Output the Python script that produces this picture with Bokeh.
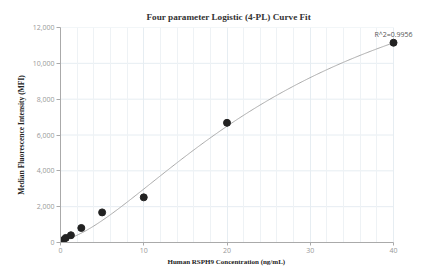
import numpy as np
from bokeh.plotting import figure
from bokeh.models import NumeralTickFormatter, Label, FixedTicker, Title
from bokeh.embed import file_html
from bokeh.resources import INLINE

# Data
concentration = [0.3125, 0.625, 1.25, 2.5, 5, 10, 20, 40]
mfi = [130, 255, 405, 810, 1680, 2520, 6680, 11150]
r2_text = "R^2=0.9956"
title_text = "Four parameter Logistic (4-PL) Curve Fit"
x_label = "Human RSPH9 Concentration (ng/mL)"
y_label = "Median Fluorescence Intensity (MFI)"
x_ticks = [0, 10, 20, 30, 40]
x_minor_ticks = [0, 2, 4, 6, 8, 10, 12, 14, 16, 18, 20, 22, 24, 26, 28, 30, 32, 34, 36, 38, 40]
y_ticks = [0, 2000, 4000, 6000, 8000, 10000, 12000]

# 4PL fit parameters (bottom a, slope b, midpoint c, top d), estimated from the reference curve
fit_a = 130
fit_b = 1.54
fit_c = 29.4
fit_d = 18000

xf = np.linspace(x_ticks[0], x_ticks[-1], 300)
yf = fit_d + (fit_a - fit_d) / (1 + (xf / fit_c) ** fit_b)

# the visible range runs a little past 40 so the R^2 text is not clipped
X_VIEW_MAX = 42.4
LEFT, TOP, FW, FH = 60, 27, 353, 215
p = figure(frame_width=FW, frame_height=FH, output_backend="svg", toolbar_location=None,
           x_range=(x_ticks[0], X_VIEW_MAX), y_range=(y_ticks[0], y_ticks[-1]),
           min_border_left=LEFT, min_border_right=12, min_border_top=TOP, min_border_bottom=31)
p.outline_line_color = None
p.background_fill_color = "white"
p.border_fill_color = "white"

p.title.text = title_text
p.title.align = "left"
p.title.offset = 86
p.title.text_font = "Liberation Serif"
p.title.text_font_style = "bold"
p.title.text_font_size = "9.2px"
p.title.text_color = "#333333"
p.title.standoff = 12

# horizontal grid lines limited to the data x-extent
n = len(y_ticks)
p.segment(x0=[x_ticks[0]] * n, y0=y_ticks, x1=[x_ticks[-1]] * n, y1=y_ticks,
          line_color="#e6edf2", line_width=1, level="underlay")

p.line(xf, yf, line_color="#aaaaaa", line_width=1)
p.scatter(concentration, mfi, size=7, fill_color="#222222", line_color="#222222")

p.add_layout(Label(x=concentration[-1], y=mfi[-1], text=r2_text, text_align="center",
                   text_baseline="bottom", y_offset=4, text_font_size="7px",
                   text_font="Open Sans", text_color="#555555"))

for ax in (p.xaxis[0], p.yaxis[0]):
    ax.axis_line_color = "#aaaaaa"
    ax.major_tick_line_color = "#aaaaaa"
    ax.minor_tick_line_color = None
    ax.major_tick_out = 4
    ax.major_tick_in = 0
    ax.major_label_text_font = "Open Sans"
    ax.major_label_text_font_size = "7px"
    ax.major_label_text_color = "#999999"

p.xaxis.bounds = (x_ticks[0], x_ticks[-1])
p.xaxis.ticker = FixedTicker(ticks=x_ticks, minor_ticks=x_minor_ticks)
p.yaxis.ticker = FixedTicker(ticks=y_ticks)
p.yaxis.formatter = NumeralTickFormatter(format="0,0")
p.yaxis.axis_label = y_label
p.yaxis.axis_label_text_font = "Liberation Serif"
p.yaxis.axis_label_text_font_style = "bold"
p.yaxis.axis_label_text_font_size = "7.5px"
p.yaxis.axis_label_text_color = "#222222"
p.xaxis.major_tick_out = 3
p.yaxis.axis_label_standoff = 4
p.xaxis.major_label_standoff = 1
p.yaxis.major_label_standoff = 2

# x-axis title centred under the 0-40 span
p.add_layout(Title(text=x_label, align="left", offset=107, text_font="Liberation Serif",
                   text_font_style="bold", text_font_size="7px", text_color="#222222",
                   standoff=0), "below")

p.xgrid.grid_line_color = "#e6edf2"
p.xgrid.minor_grid_line_color = "#eef2f5"
p.ygrid.grid_line_color = None

open("out.html", "w").write(file_html(p, INLINE))
